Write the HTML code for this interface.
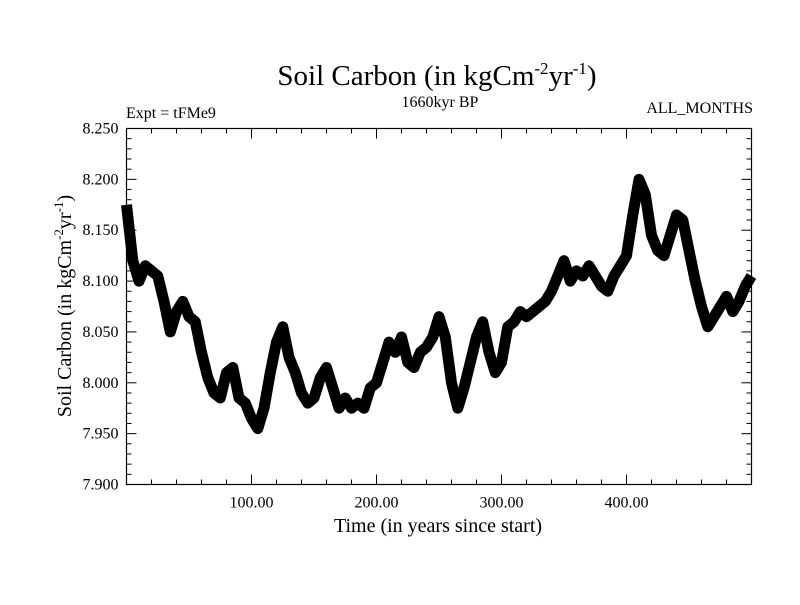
<!DOCTYPE html>
<html><head><meta charset="utf-8"><style>
html,body{margin:0;padding:0;background:#fff;}
svg text{font-family:"Liberation Serif",serif;fill:#000;}
</style></head><body>
<svg id="chart" width="800" height="600" viewBox="0 0 800 600">
<text x="437" y="85" font-size="29" text-anchor="middle">Soil Carbon (in kgCm<tspan dy="-11" font-size="17">-2</tspan><tspan dy="11">yr</tspan><tspan dy="-11" font-size="17">-1</tspan><tspan dy="11">)</tspan></text>
<text x="440" y="107" font-size="16" text-anchor="middle">1660kyr BP</text>
<text x="126" y="118" font-size="16">Expt = tFMe9</text>
<text x="753" y="113" font-size="16" text-anchor="end">ALL_MONTHS</text>
<text x="438" y="532" font-size="20" text-anchor="middle">Time (in years since start)</text>
<text transform="translate(71,306) rotate(-90)" font-size="20" text-anchor="middle">Soil Carbon (in kgCm<tspan dy="-8" font-size="13">-2</tspan><tspan dy="8">yr</tspan><tspan dy="-8" font-size="13">-1</tspan><tspan dy="8">)</tspan></text>
<g id="ticks"></g>
<g id="series"></g>
<rect x="126.5" y="128.5" width="625" height="356" fill="none" stroke="#000" stroke-width="1.2"/>
</svg>
<script>
const years=[];for(let i=0;i<=100;i++)years.push(i*5);
const soilCarbon=[8.175,8.120,8.100,8.115,8.110,8.105,8.080,8.050,8.070,8.080,8.065,8.060,8.030,8.005,7.990,7.985,8.010,8.015,7.985,7.980,7.965,7.955,7.975,8.010,8.040,8.055,8.025,8.010,7.990,7.980,7.985,8.005,8.015,7.995,7.975,7.985,7.975,7.980,7.975,7.995,8.000,8.020,8.040,8.030,8.045,8.020,8.015,8.030,8.035,8.045,8.065,8.045,8.000,7.975,7.995,8.020,8.045,8.060,8.030,8.010,8.020,8.055,8.060,8.070,8.065,8.070,8.075,8.080,8.090,8.105,8.120,8.100,8.110,8.105,8.115,8.105,8.095,8.090,8.105,8.115,8.125,8.165,8.200,8.185,8.145,8.130,8.125,8.145,8.165,8.160,8.130,8.100,8.075,8.055,8.065,8.075,8.085,8.070,8.080,8.095,8.105];
const xTickLabels=["100.00","200.00","300.00","400.00"];
const xTickValues=[100,200,300,400];
const yTickLabels=["7.900","7.950","8.000","8.050","8.100","8.150","8.200","8.250"];
const yTickValues=[7.90,7.95,8.00,8.05,8.10,8.15,8.20,8.25];
const X0=126.5,X1=751.5,Y0=484.5,Y1=128.5,xMin=0,xMax=500,yMin=7.9,yMax=8.25;
function sx(v){return X0+(v-xMin)/(xMax-xMin)*(X1-X0);}
function sy(v){return Y0-(v-yMin)/(yMax-yMin)*(Y0-Y1);}
const NS="http://www.w3.org/2000/svg";
const tg=document.getElementById('ticks');
function line(x1,y1,x2,y2,name){const l=document.createElementNS(NS,'line');
l.setAttribute('x1',x1);l.setAttribute('y1',y1);l.setAttribute('x2',x2);l.setAttribute('y2',y2);
l.setAttribute('stroke','#000');l.setAttribute('stroke-width','1');


tg.appendChild(l);}
for(let v=20;v<500;v+=20){const x=sx(v);const major=v%100===0;const L=major?10:5;
line(x,Y0,x,Y0-L,'x-tick');line(x,Y1,x,Y1+L,'x-tick-top');}
for(let v=7.91;v<8.2495;v+=0.01){const y=sy(v);const major=Math.abs(Math.round(v*100)%5)===0;const L=major?10:5;
line(X0,y,X0+L,y,'y-tick');line(X1,y,X1-L,y,'y-tick-right');}
xTickLabels.forEach((t,i)=>{const e=document.createElementNS(NS,'text');
e.setAttribute('x',sx(xTickValues[i]));e.setAttribute('y',Y0+23);e.setAttribute('font-size','16');e.setAttribute('text-anchor','middle');


e.textContent=t;tg.appendChild(e);});
yTickLabels.forEach((t,i)=>{const e=document.createElementNS(NS,'text');
e.setAttribute('x',X0-8);e.setAttribute('y',sy(yTickValues[i])+5);e.setAttribute('font-size','16');e.setAttribute('text-anchor','end');


e.textContent=t;tg.appendChild(e);});
const pl=document.createElementNS(NS,'polyline');
pl.setAttribute('points',years.map((y,i)=>sx(y).toFixed(1)+','+sy(soilCarbon[i]).toFixed(1)).join(' '));
pl.setAttribute('fill','none');pl.setAttribute('stroke','#000');pl.setAttribute('stroke-width','11');pl.setAttribute('stroke-linejoin','round');


document.getElementById('series').appendChild(pl);
</script>
</body></html>
